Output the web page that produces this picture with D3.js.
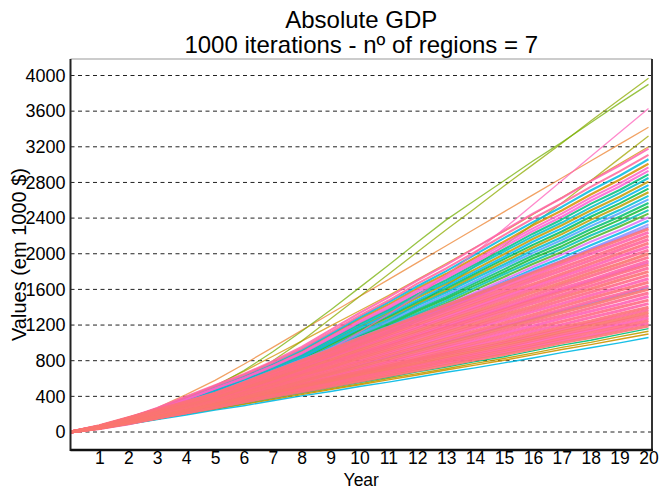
<!DOCTYPE html>
<html><head><meta charset="utf-8">
<script src="https://cdn.jsdelivr.net/npm/d3@7"></script>
<style>
body{margin:0;background:#fff}
svg{display:block}
text{font-family:"Liberation Sans",Arial,sans-serif;fill:#000}
</style>
</head><body>
<svg id="chart" width="659" height="489"></svg>
<script>
// ---------- data ----------
const years = [0,1,2,3,4,5,6,7,8,9,10,11,12,13,14,15,16,17,18,19,20];
const xTickValues = [1,2,3,4,5,6,7,8,9,10,11,12,13,14,15,16,17,18,19,20];
const yTickValues = [0,400,800,1200,1600,2000,2400,2800,3200,3600,4000];
const titleLines = ["Absolute GDP", "1000 iterations - nº of regions = 7"];
const xTitle = "Year";
const yTitle = "Values (em 1000 $)";

// highest trajectories that leave the bundle
const outlierRuns = [
  {iteration:230, values:[0,40,110,200,310,450,610,800,1020,1270,1520,1770,2020,2270,2510,2760,3000,3240,3490,3730,3970]},
  {iteration:260, values:[0,50,130,230,360,510,690,900,1130,1370,1620,1870,2130,2380,2600,2820,3040,3250,3470,3690,3900]},
  {iteration:900, values:[0,30,80,150,240,340,460,600,760,930,1120,1320,1530,1760,2010,2280,2550,2820,3090,3360,3630]},
  {iteration:60,  values:[0,60,150,270,420,580,760,950,1140,1330,1520,1710,1900,2090,2280,2470,2660,2850,3040,3230,3420]},
  {iteration:200, values:[0,40,100,180,280,390,510,640,780,930,1090,1250,1430,1640,1860,2090,2330,2570,2820,3070,3320]},
  {iteration:110, values:[0,50,130,240,370,520,680,850,1020,1190,1360,1530,1710,1890,2070,2250,2440,2630,2820,3010,3200]}
];

// upper part of the bundle
const upperRuns = [
  {iteration:700, values:[0,45,115,200,290,385,480,585,700,840,980,1105,1245,1375,1515,1655,1795,1920,2060,2190,2330]},
  {iteration:560, values:[0,45,120,200,295,390,485,595,710,855,995,1125,1270,1400,1540,1685,1825,1955,2095,2230,2370]},
  {iteration:790, values:[0,50,120,205,300,400,495,605,725,870,1010,1145,1290,1420,1565,1710,1855,1990,2135,2265,2410]},
  {iteration:300, values:[0,50,125,210,305,405,500,615,735,880,1030,1165,1310,1445,1595,1740,1885,2020,2170,2305,2450]},
  {iteration:470, values:[0,50,125,210,310,410,510,625,745,895,1045,1185,1330,1470,1620,1770,1915,2055,2205,2340,2490]},
  {iteration:330, values:[0,50,125,215,315,420,520,635,760,910,1065,1200,1355,1495,1645,1795,1950,2085,2240,2380,2530]},
  {iteration:380, values:[0,50,130,220,320,425,525,645,770,925,1080,1220,1375,1515,1670,1825,1980,2120,2275,2415,2570]},
  {iteration:650, values:[0,50,130,220,325,430,535,655,785,940,1095,1240,1395,1540,1695,1855,2010,2155,2310,2455,2610]},
  {iteration:520, values:[0,55,135,225,330,435,545,665,795,955,1115,1260,1420,1565,1725,1880,2040,2185,2345,2490,2650]},
  {iteration:160, values:[0,55,135,230,335,445,550,675,805,970,1130,1280,1440,1585,1750,1910,2070,2220,2380,2530,2690]},
  {iteration:360, values:[0,55,135,230,340,450,560,685,820,985,1145,1295,1460,1610,1775,1940,2100,2250,2415,2565,2730]},
  {iteration:580, values:[0,55,140,235,345,455,570,695,830,1000,1165,1315,1480,1635,1800,1965,2135,2285,2450,2605,2770]},
  {iteration:140, values:[0,55,140,240,350,465,575,705,845,1010,1180,1335,1505,1660,1825,1995,2165,2320,2485,2640,2810]},
  {iteration:500, values:[0,55,145,240,355,470,585,715,855,1025,1195,1355,1525,1680,1855,2025,2195,2350,2520,2680,2850]},
  {iteration:400, values:[0,60,145,245,360,475,590,725,865,1040,1215,1375,1545,1705,1880,2050,2225,2385,2560,2715,2890]},
  {iteration:860, values:[0,60,145,250,365,485,600,735,880,1055,1230,1390,1570,1730,1905,2080,2255,2415,2595,2755,2930]},
  {iteration:880, values:[0,60,150,250,370,490,610,745,890,1070,1245,1410,1590,1750,1930,2110,2285,2450,2630,2790,2970]},
  {iteration:100, values:[0,60,150,255,375,495,615,755,905,1085,1265,1430,1610,1775,1955,2135,2320,2485,2665,2830,3010]},
  {iteration:550, values:[0,60,155,260,385,505,625,765,920,1100,1285,1455,1635,1805,1990,2175,2355,2525,2710,2875,3060]},
  {iteration:940, values:[0,60,155,265,390,515,640,780,935,1120,1305,1475,1665,1835,2020,2210,2395,2565,2750,2925,3110]},
  {iteration:920, values:[0,65,160,270,400,525,650,795,955,1145,1335,1510,1700,1875,2065,2260,2450,2625,2815,2990,3180]},
  {iteration:780, values:[0,55,135,210,285,360,465,565,670,770,875,975,1080,1180,1285,1385,1490,1590,1695,1795,1900]},
  {iteration:720, values:[0,70,160,255,345,435,560,685,810,935,1060,1180,1305,1430,1555,1680,1805,1925,2050,2175,2300]},
  {iteration:690, values:[0,50,115,180,245,310,395,485,570,660,745,835,920,1010,1095,1185,1270,1360,1445,1535,1620]}
];

// lowest trajectories
const lowerRuns = [
  {iteration:555, values:[0,35,85,140,190,245,295,350,405,455,510,560,615,670,720,775,830,890,945,1000,1060]},
  {iteration:120, values:[0,40,90,145,200,255,310,365,420,475,530,585,640,695,750,805,865,925,980,1040,1100]},
  {iteration:150, values:[0,40,90,145,205,260,315,375,430,485,540,600,655,710,770,825,885,950,1005,1070,1130]},
  {iteration:390, values:[0,40,95,150,210,265,325,385,440,500,555,615,675,730,790,845,910,975,1030,1095,1160]}
];

// dense core of the bundle
const coreRuns = [
  {iteration:990, values:[0,40,95,155,215,275,335,395,450,510,570,630,690,750,810,870,935,1000,1060,1125,1190]},
  {iteration:930, values:[0,45,100,160,220,280,340,405,465,525,585,645,710,770,830,890,960,1025,1085,1155,1220]},
  {iteration:975, values:[0,45,100,165,225,290,350,415,475,540,600,665,725,790,850,915,980,1050,1115,1180,1250]},
  {iteration:912, values:[0,45,100,165,230,295,360,420,485,550,615,680,740,805,870,935,1005,1075,1140,1210,1280]},
  {iteration:960, values:[0,45,105,170,235,300,365,430,500,565,630,695,760,825,890,955,1030,1100,1165,1240,1310]},
  {iteration:998, values:[0,45,105,175,240,310,375,440,510,575,645,710,775,845,910,980,1050,1125,1195,1265,1340]},
  {iteration:945, values:[0,50,110,180,245,315,385,450,520,590,660,725,795,865,930,1000,1075,1150,1220,1295,1370]},
  {iteration:982, values:[0,50,110,180,250,320,390,460,530,600,670,740,810,880,950,1020,1100,1175,1245,1325,1400]},
  {iteration:922, values:[0,45,100,160,215,275,350,430,505,585,660,740,820,895,975,1050,1130,1205,1285,1360,1440]},
  {iteration:968, values:[0,45,105,165,220,280,360,440,520,600,680,760,840,920,1000,1080,1160,1240,1320,1400,1480]},
  {iteration:907, values:[0,45,105,165,230,290,370,455,535,615,700,780,865,945,1025,1110,1190,1275,1355,1435,1520]},
  {iteration:955, values:[0,45,110,170,235,295,380,465,550,635,715,800,885,970,1055,1140,1225,1305,1390,1475,1560]},
  {iteration:993, values:[0,50,110,175,240,305,390,475,565,650,735,820,910,995,1080,1170,1255,1340,1425,1515,1600]},
  {iteration:935, values:[0,50,115,180,245,310,400,490,575,665,755,845,930,1020,1110,1195,1285,1375,1465,1550,1640]},
  {iteration:978, values:[0,50,120,185,250,320,410,500,590,680,775,865,955,1045,1135,1225,1315,1410,1500,1590,1680]},
  {iteration:915, values:[0,50,120,190,260,325,420,515,605,700,790,885,975,1070,1165,1255,1350,1440,1535,1625,1720]},
  {iteration:962, values:[0,55,125,195,265,335,430,525,620,715,810,905,1000,1095,1190,1285,1380,1475,1570,1665,1760]},
  {iteration:987, values:[0,55,125,200,270,340,440,535,635,730,830,925,1020,1120,1215,1315,1410,1510,1605,1705,1800]},
  {iteration:942, values:[0,55,130,200,275,350,450,550,650,745,845,945,1045,1145,1245,1345,1445,1540,1640,1740,1840]},
  {iteration:970, values:[0,55,130,205,280,355,460,560,660,765,865,965,1070,1170,1270,1370,1475,1575,1675,1780,1880]},
  {iteration:925, values:[0,60,135,210,290,365,470,570,675,780,885,985,1090,1195,1300,1400,1505,1610,1710,1815,1920]},
  {iteration:958, values:[0,60,135,215,295,370,480,585,690,795,900,1005,1115,1220,1325,1430,1535,1645,1750,1855,1960]},
  {iteration:995, values:[0,60,140,220,300,380,490,595,705,810,920,1030,1135,1245,1350,1460,1570,1675,1785,1890,2000]},
  {iteration:948, values:[0,60,145,225,305,390,500,610,720,830,940,1050,1160,1270,1380,1490,1600,1710,1820,1930,2040]},
  {iteration:910, values:[0,60,145,230,310,395,510,620,730,845,955,1070,1180,1295,1405,1520,1630,1745,1855,1970,2080]},
  {iteration:980, values:[0,65,150,235,320,405,515,630,745,860,975,1090,1205,1320,1435,1550,1660,1775,1890,2005,2120]},
  {iteration:938, values:[0,65,150,240,325,410,525,645,760,875,995,1110,1225,1345,1460,1575,1695,1810,1925,2045,2160]},
  {iteration:965, values:[0,65,155,240,330,420,535,655,775,895,1010,1130,1250,1370,1485,1605,1725,1845,1960,2080,2200]},
  {iteration:918, values:[0,65,155,245,335,425,545,670,790,910,1030,1150,1275,1395,1515,1635,1755,1880,2000,2120,2240]},
  {iteration:985, values:[0,70,160,250,340,435,555,680,800,925,1050,1170,1295,1420,1540,1665,1785,1910,2035,2155,2280]}
];

// ---------- layout / style ----------
const frame = {left:70.5, right:652, top:59, bottom:450};
const hueStops = ["#F8766D","#DE8C00","#B79F00","#7CAE00","#00BA38","#00C08B","#00BFC4",
                  "#00B4F0","#619CFF","#C77CFF","#F564E3","#FF64B0","#F8766D"];

const svg = d3.select("#chart");
const x = d3.scaleLinear().domain([0, 20]).range([frame.left, 648.5]);
const y = d3.scaleLinear().domain([0, 4000]).range([432, 75.5]);
const color = d3.scaleLinear()
  .domain(hueStops.map((_, i) => 1 + i * 999 / (hueStops.length - 1)))
  .range(hueStops)
  .interpolate(d3.interpolateHcl);

// grid
svg.append("g").selectAll("line").data(yTickValues).join("line")
  .attr("x1", frame.left).attr("x2", frame.right)
  .attr("y1", d => y(d)).attr("y2", d => y(d))
  .attr("stroke", "#222").attr("stroke-width", 1)
  .attr("stroke-dasharray", "4,3.5");

// lines
const all = [
  ...outlierRuns.map(r => ({...r, w:1.3, op:0.75})),
  ...upperRuns.map(r => ({...r, w:2.1, op:0.85})),
  ...lowerRuns.map(r => ({...r, w:1.4, op:0.9})),
  ...coreRuns.map(r => ({...r, w:3.0, op:0.9}))
].sort((a, b) => a.iteration - b.iteration);

const line = d3.line().x((d, i) => x(years[i])).y(d => y(d));
svg.append("g").selectAll("path").data(all).join("path")
  .attr("d", d => line(d.values))
  .attr("fill", "none")
  .attr("stroke", d => color(d.iteration))
  .attr("stroke-width", d => d.w)
  .attr("stroke-opacity", d => d.op)
  .attr("stroke-linejoin", "round");

// frame
svg.append("line").attr("x1", frame.left).attr("x2", frame.right).attr("y1", frame.top).attr("y2", frame.top)
  .attr("stroke", "#999").attr("stroke-width", 1);
svg.append("line").attr("x1", frame.right).attr("x2", frame.right).attr("y1", frame.top).attr("y2", frame.bottom)
  .attr("stroke", "#333").attr("stroke-width", 2);
svg.append("line").attr("x1", frame.left).attr("x2", frame.left).attr("y1", frame.top).attr("y2", frame.bottom + 1)
  .attr("stroke", "#222").attr("stroke-width", 2);
svg.append("line").attr("x1", frame.left).attr("x2", frame.right + 1).attr("y1", frame.bottom).attr("y2", frame.bottom)
  .attr("stroke", "#111").attr("stroke-width", 2.5);

// axes
const yAxis = svg.append("g").attr("transform", `translate(${frame.left},0)`)
  .call(d3.axisLeft(y).tickValues(yTickValues).tickSize(0).tickPadding(5).tickFormat(d3.format("d")));
yAxis.select(".domain").remove();
yAxis.selectAll("text").style("font-size", "18px").style("font-family", '"Liberation Sans",Arial,sans-serif').attr("fill", "#000");

const xAxis = svg.append("g").attr("transform", `translate(0,${frame.bottom})`)
  .call(d3.axisBottom(x).tickValues(xTickValues).tickSize(0).tickPadding(2).tickFormat(d3.format("d")));
xAxis.select(".domain").remove();
xAxis.selectAll("text").style("font-size", "17.5px").style("font-family", '"Liberation Sans",Arial,sans-serif').attr("fill", "#000");

// titles
const cx = (frame.left + frame.right) / 2;
svg.append("text").attr("x", cx).attr("y", 28).attr("text-anchor", "middle")
  .style("font-size", "24px").text(titleLines[0]);
svg.append("text").attr("x", cx).attr("y", 53).attr("text-anchor", "middle")
  .style("font-size", "24px").text(titleLines[1]);
svg.append("text").attr("x", cx).attr("y", 485.5).attr("text-anchor", "middle")
  .style("font-size", "17.5px").text(xTitle);
svg.append("text").attr("transform", `translate(26,${(frame.top + frame.bottom) / 2}) rotate(-90)`)
  .attr("text-anchor", "middle").style("font-size", "20px").text(yTitle);
</script>
</body></html>
